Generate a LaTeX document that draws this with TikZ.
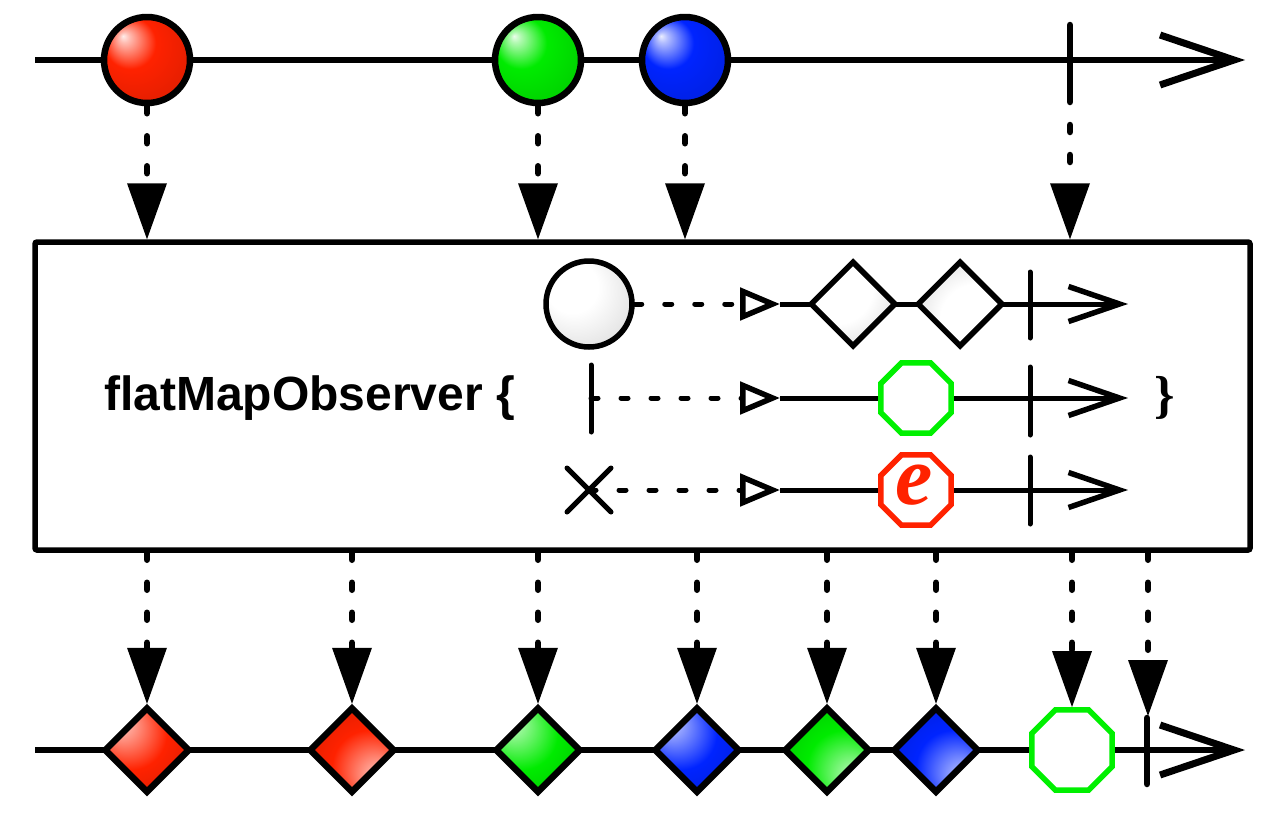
\documentclass[tikz,border=0pt]{standalone}
\usepackage{fontspec}
\setmainfont{Liberation Sans}
\newfontfamily\efont{Liberation Serif}
\usetikzlibrary{arrows.meta,shapes.geometric}

\definecolor{mred}{RGB}{255,34,0}
\definecolor{mgreen}{RGB}{0,235,0}
\definecolor{mblue}{RGB}{0,36,255}
\definecolor{ogreen}{RGB}{0,240,0}
\colorlet{markcol}{mred}

\pgfdeclareradialshading[markcol]{marble}{\pgfqpoint{-14bp}{14bp}}{color(0bp)=(markcol!8!white); color(3bp)=(markcol!30!white); color(15bp)=(markcol); color(34bp)=(markcol!88!black); color(50bp)=(markcol!50!black)}
\pgfdeclareradialshading[markcol]{facet}{\pgfqpoint{-18bp}{18bp}}{color(0bp)=(markcol!5!white); color(6bp)=(markcol!40!white); color(22bp)=(markcol); color(38bp)=(markcol!85!black); color(50bp)=(markcol!55!black)}

\tikzset{
  marble/.style={shading=marble,/utils/exec={\colorlet{markcol}{#1}}},
  facet/.style={shading=facet,/utils/exec={\colorlet{markcol}{#1}}},
  flip/.style={shading angle=180}
}

\begin{document}
\begin{tikzpicture}[x=1pt,y=-1pt,
  bead/.style={circle,draw,line width=6.5pt,minimum size=86pt,inner sep=0pt},
  gem/.style={diamond,aspect=1,draw,line width=6.5pt,minimum size=86pt,inner sep=0pt},
  octo/.style={regular polygon,regular polygon sides=8,draw=#1,line width=5.5pt,fill=white,inner sep=0pt,minimum size=87pt},
  track/.style={line width=6.5pt},
  tick/.style={line width=6.5pt,line cap=round},
  thin/.style={line width=5pt},
  drop/.style={line width=6.5pt,line cap=round,dash pattern=on 7pt off 23pt,-{Triangle[length=56pt,width=40pt,line width=0pt]}},
  feed/.style={line width=5pt,line cap=round,dash pattern=on 7pt off 23pt,-{Triangle[open,length=40pt,width=32pt,line width=5.5pt]}},
  bigbarb/.style={-{Straight Barb[length=74pt,width=50pt,line width=7pt]}},
  smallbarb/.style={-{Straight Barb[length=51pt,width=35pt,line width=5.5pt]}}]
\useasboundingbox (0,0) rectangle (1280,820);

% timelines
\coordinate (in0) at (35,60);
\coordinate (out0) at (1245,60);
\coordinate (in1) at (35,750);
\coordinate (out1) at (1245,750);
\draw[track,bigbarb] (in0) -- (out0);
\draw[track,bigbarb] (in1) -- (out1);

% inner rows
\coordinate (a1) at (780,304);
\coordinate (a2) at (780,398);
\coordinate (a3) at (780,490);
\coordinate (e1) at (1128,304);
\coordinate (e2) at (1128,398);
\coordinate (e3) at (1128,490);
\draw[thin,smallbarb] (a1) -- (e1);
\draw[thin,smallbarb] (a2) -- (e2);
\draw[thin,smallbarb] (a3) -- (e3);

% source items
\node[bead,marble=mred] (r1) at (147,60) {};
\node[bead,marble=mgreen] (g1) at (538,60) {};
\node[bead,marble=mblue] (b1) at (685,60) {};
\draw[tick] (1070,25) -- (1070,95);
\coordinate (t0) at (1070,95);

% operator box
\node[draw,line width=5.5pt,rounded corners=2pt,minimum width=1215pt,minimum height=308pt] (op) at (642.5,396) {};
\node[anchor=west,inner sep=0pt,font=\fontsize{48}{50}\selectfont\bfseries] (lbl) at (104,398) {flatMapObserver \{};
\node[inner sep=0pt,font=\efont\fontsize{52}{52}\selectfont\bfseries] (rb) at (1165,398) {\}};

\node[bead,line width=5.5pt,marble=white] (c0) at (589,304) {};
\node[gem,line width=5.5pt,facet=white] (w1) at (853,304) {};
\node[gem,line width=5.5pt,facet=white,flip] (w2) at (960,304) {};
\draw[thin,line cap=round] (1030,272) -- (1030,338);
\draw[feed] (c0.east) -- (a1);

\coordinate (t1) at (591,398);
\draw[thin,line cap=round] (591,365) -- (591,432);
\node[octo=ogreen,minimum size=76pt] (o1) at (916,398) {};
\draw[thin,line cap=round] (1030,367) -- (1030,435);
\draw[feed] (t1) -- (a2);

\coordinate (x0) at (589,490);
\draw[thin,line cap=round] (567,468) -- (611,512) (567,512) -- (611,468);
\node[octo=mred,minimum size=76pt] (o2) at (916,490) {};
\node[text=mred,inner sep=0pt,font=\efont\fontsize{84}{84}\selectfont\bfseries\itshape] (ee) at (914,485) {e};
\draw[thin,line cap=round] (1030,457) -- (1030,524);
\draw[feed] (x0) -- (a3);

% result items
\node[gem,facet=mred] (d1) at (147,750) {};
\node[gem,facet=mred,flip] (d2) at (352,750) {};
\node[gem,facet=mgreen] (d3) at (538,750) {};
\node[gem,facet=mblue] (d4) at (697,750) {};
\node[gem,facet=mgreen,flip] (d5) at (827,750) {};
\node[gem,facet=mblue,flip] (d6) at (936,750) {};
\node[octo=ogreen] (d7) at (1072,750) {};
\draw[tick] (1147,718) -- (1147,784);
\coordinate (t2) at (1148,716);

% arrows in
\draw[drop] (r1.south) -- (r1.south |- op.north);
\draw[drop] (g1.south) -- (g1.south |- op.north);
\draw[drop] (b1.south) -- (b1.south |- op.north);
\draw[drop] (t0) -- (t0 |- op.north);

% arrows out
\foreach \d in {d1,d2,d3,d4,d5,d6,d7}
  \draw[drop] (op.south -| \d.north) -- (\d.north);
\draw[drop] (op.south -| t2) -- (t2);
\end{tikzpicture}
\end{document}
